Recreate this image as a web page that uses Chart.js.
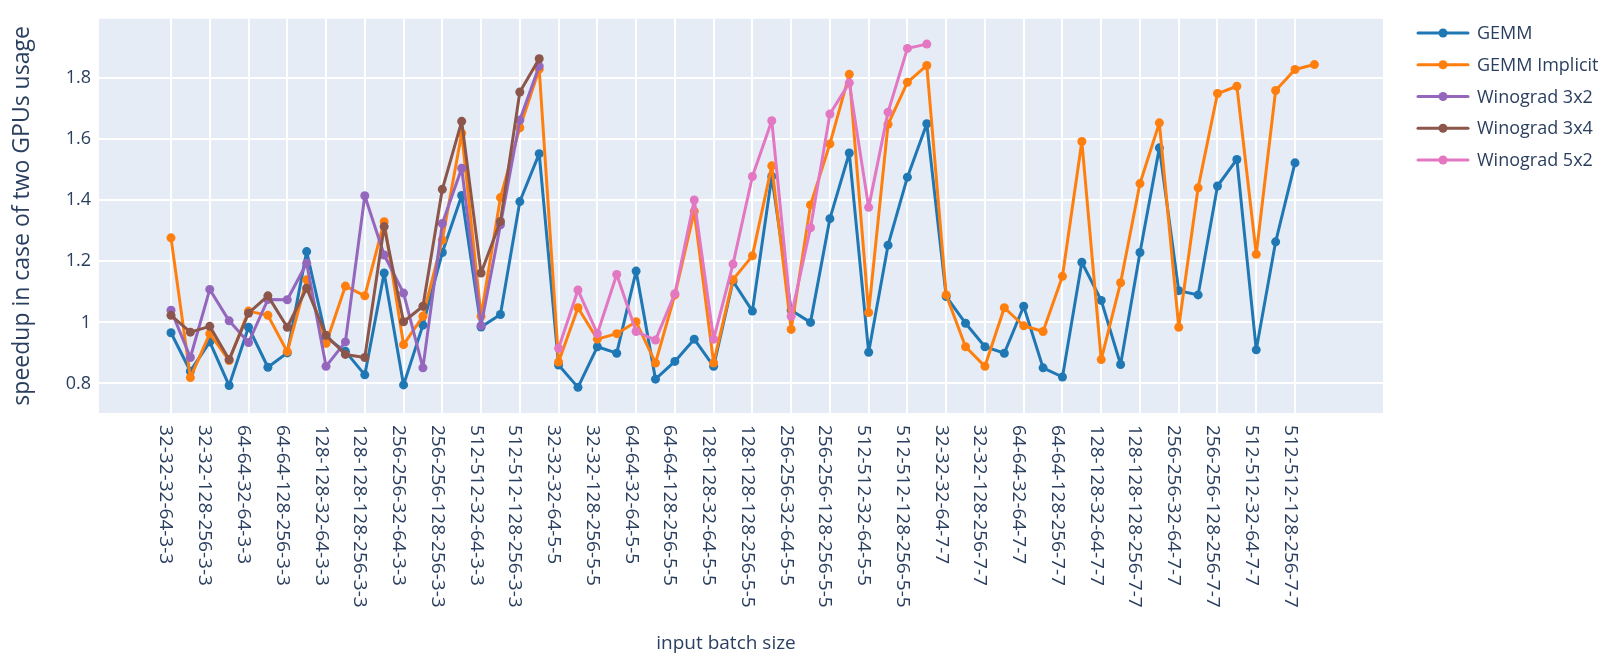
<!DOCTYPE html>
<html>
<head>
<meta charset="utf-8">
<script src="https://cdn.jsdelivr.net/npm/chart.js@4.4.1/dist/chart.umd.min.js"></script>
<style>
  html, body { margin: 0; padding: 0; background: #fff; }
  canvas { display: block; }
</style>
</head>
<body>
<canvas id="myChart" width="1609" height="661"></canvas>
<script>
const categorias = [
  '32-32-32-64-3-3', '32-32-64-128-3-3', '32-32-128-256-3-3', '32-32-256-512-3-3',
  '64-64-32-64-3-3', '64-64-64-128-3-3', '64-64-128-256-3-3', '64-64-256-512-3-3',
  '128-128-32-64-3-3', '128-128-64-128-3-3', '128-128-128-256-3-3', '128-128-256-512-3-3',
  '256-256-32-64-3-3', '256-256-64-128-3-3', '256-256-128-256-3-3', '256-256-256-512-3-3',
  '512-512-32-64-3-3', '512-512-64-128-3-3', '512-512-128-256-3-3', '512-512-256-512-3-3',
  '32-32-32-64-5-5', '32-32-64-128-5-5', '32-32-128-256-5-5', '32-32-256-512-5-5',
  '64-64-32-64-5-5', '64-64-64-128-5-5', '64-64-128-256-5-5', '64-64-256-512-5-5',
  '128-128-32-64-5-5', '128-128-64-128-5-5', '128-128-128-256-5-5', '128-128-256-512-5-5',
  '256-256-32-64-5-5', '256-256-64-128-5-5', '256-256-128-256-5-5', '256-256-256-512-5-5',
  '512-512-32-64-5-5', '512-512-64-128-5-5', '512-512-128-256-5-5', '512-512-256-512-5-5',
  '32-32-32-64-7-7', '32-32-64-128-7-7', '32-32-128-256-7-7', '32-32-256-512-7-7',
  '64-64-32-64-7-7', '64-64-64-128-7-7', '64-64-128-256-7-7', '64-64-256-512-7-7',
  '128-128-32-64-7-7', '128-128-64-128-7-7', '128-128-128-256-7-7', '128-128-256-512-7-7',
  '256-256-32-64-7-7', '256-256-64-128-7-7', '256-256-128-256-7-7', '256-256-256-512-7-7',
  '512-512-32-64-7-7', '512-512-64-128-7-7', '512-512-128-256-7-7', '512-512-256-512-7-7'
];

// GEMM termina em 512-512-128-256-7-7
const gemm = [
  0.966, 0.84, 0.936, 0.793, 0.984, 0.853, 0.90, 1.232, 0.95, 0.905,
  0.828, 1.162, 0.795, 0.991, 1.229, 1.416, 0.985, 1.026, 1.396, 1.553,
  0.86, 0.787, 0.92, 0.899, 1.168, 0.814, 0.872, 0.945, 0.856, 1.135,
  1.037, 1.478, 1.04, 1.0, 1.34, 1.555, 0.902, 1.253, 1.476, 1.651,
  1.085, 0.997, 0.92, 0.899, 1.053, 0.851, 0.821, 1.197, 1.072, 0.862,
  1.229, 1.572, 1.104, 1.09, 1.447, 1.534, 0.91, 1.264, 1.523
];

const gemmImplicit = [
  1.277, 0.819, 0.963, 0.875, 1.037, 1.023, 0.904, 1.14, 0.931, 1.119,
  1.087, 1.33, 0.927, 1.02, 1.27, 1.62, 1.02, 1.409, 1.638, 1.83,
  0.87, 1.048, 0.945, 0.963, 1.002, 0.867, 1.09, 1.364, 0.867, 1.14,
  1.218, 1.513, 0.977, 1.385, 1.585, 1.813, 1.032, 1.649, 1.787, 1.842,
  1.09, 0.92, 0.856, 1.048, 0.989, 0.97, 1.151, 1.593, 0.878, 1.13,
  1.455, 1.654, 0.984, 1.441, 1.75, 1.774, 1.223, 1.76, 1.829, 1.845
];

// so kernels 3x3 (indices 0-19)
const winograd3x2 = [
  1.04, 0.885, 1.108, 1.005, 0.934, 1.075, 1.074, 1.194, 0.856, 0.936,
  1.415, 1.221, 1.096, 0.851, 1.324, 1.505, 0.989, 1.32, 1.663, 1.84
];

const winograd3x4 = [
  1.023, 0.968, 0.987, 0.878, 1.03, 1.087, 0.984, 1.112, 0.958, 0.895,
  0.885, 1.314, 1.002, 1.053, 1.436, 1.659, 1.162, 1.331, 1.755, 1.864
];

// so kernels 5x5 (indices 20-39)
const winograd5x2 = [
  0.915, 1.106, 0.963, 1.157, 0.97, 0.942, 1.094, 1.401, 0.945, 1.191,
  1.478, 1.661, 1.02, 1.31, 1.683, 1.785, 1.377, 1.689, 1.898, 1.912
];

const ticksY = [0.8, 1, 1.2, 1.4, 1.6, 1.8];
const ticksX = categorias.map((c, i) => i).filter(i => i % 2 === 0);

const pontos = (valores, inicio) => valores.map((v, i) => ({x: inicio + i, y: v}));

const corTexto = '#2a3f5f';
const fonte = '"Open Sans", "Liberation Sans", sans-serif';
Chart.defaults.font.family = fonte;

const fundoPlugin = {
  id: 'fundo',
  beforeDraw(chart) {
    const {ctx, chartArea: a} = chart;
    ctx.save();
    ctx.fillStyle = '#e5ecf6';
    ctx.fillRect(a.left, a.top, a.right - a.left, a.bottom - a.top);
    ctx.restore();
  }
};

const rotulosPlugin = {
  id: 'rotulos',
  afterDraw(chart) {
    const ctx = chart.ctx;
    const xs = chart.scales.x;
    ctx.save();
    ctx.fillStyle = corTexto;
    ctx.font = '19px ' + fonte;
    ctx.textAlign = 'left';
    ctx.textBaseline = 'alphabetic';
    ticksX.forEach(i => {
      const x = xs.getPixelForValue(i);
      ctx.save();
      ctx.translate(x - 10.5, 425);
      ctx.rotate(Math.PI / 2);
      ctx.fillText(categorias[i], 0, 0);
      ctx.restore();
    });

    // titulos dos eixos
    ctx.textAlign = 'center';
    ctx.textBaseline = 'middle';
    ctx.font = '19px ' + fonte;
    ctx.fillText('input batch size', 726, 644);
    ctx.save();
    ctx.translate(22, (chart.chartArea.top + chart.chartArea.bottom) / 2);
    ctx.rotate(-Math.PI / 2);
    ctx.font = '23px ' + fonte;
    ctx.fillText('speedup in case of two GPUs usage', 0, 0);
    ctx.restore();

    // legenda
    ctx.textAlign = 'left';
    ctx.font = '18px ' + fonte;
    chart.data.datasets.forEach((ds, i) => {
      const y = 33 + i * 31.75;
      ctx.strokeStyle = ds.borderColor;
      ctx.lineWidth = 3;
      ctx.lineCap = 'round';
      ctx.beginPath();
      ctx.moveTo(1418, y);
      ctx.lineTo(1468, y);
      ctx.stroke();
      ctx.fillStyle = ds.borderColor;
      ctx.beginPath();
      ctx.arc(1443, y, 4.5, 0, 2 * Math.PI);
      ctx.fill();
      ctx.fillStyle = corTexto;
      ctx.fillText(ds.label, 1477, y + 1);
    });
    ctx.restore();
  }
};

const serie = (label, cor, data, ordem) => ({
  label: label,
  data: data,
  borderColor: cor,
  backgroundColor: cor,
  borderWidth: 3,
  borderJoinStyle: 'round',
  borderCapStyle: 'round',
  pointRadius: 4.5,
  pointBorderWidth: 0,
  pointBackgroundColor: cor,
  tension: 0,
  order: ordem
});

let ctx = document.getElementById('myChart').getContext('2d');

new Chart(ctx, {
  type: 'line',
  data: {
    datasets: [
      serie('GEMM', '#1f77b4', pontos(gemm, 0), 5),
      serie('GEMM Implicit', '#ff7f0e', pontos(gemmImplicit, 0), 4),
      serie('Winograd 3x2', '#9467bd', pontos(winograd3x2, 0), 3),
      serie('Winograd 3x4', '#8c564b', pontos(winograd3x4, 0), 2),
      serie('Winograd 5x2', '#e377c2', pontos(winograd5x2, 20), 1)
    ]
  },
  options: {
    responsive: false,
    animation: false,
    events: [],
    layout: { padding: { top: 8, right: 226, left: 0, bottom: 0 } },
    plugins: {
      legend: { display: false },
      tooltip: { enabled: false }
    },
    scales: {
      x: {
        type: 'linear',
        min: -3.715,
        max: 62.54,
        afterBuildTicks: (scale) => { scale.ticks = ticksX.map(v => ({value: v})); },
        afterFit: (scale) => { scale.height = 248; },
        ticks: { display: false },
        grid: { color: '#ffffff', lineWidth: 2, drawTicks: false },
        border: { display: false }
      },
      y: {
        min: 0.703,
        max: 1.995,
        afterBuildTicks: (scale) => { scale.ticks = ticksY.map(v => ({value: v})); },
        afterFit: (scale) => { scale.width = 99; },
        ticks: {
          padding: 8,
          color: corTexto,
          font: { size: 18 },
          callback: function(value) {
            return String(Math.round(value * 10) / 10);
          }
        },
        grid: { color: '#ffffff', lineWidth: 2, drawTicks: false },
        border: { display: false }
      }
    }
  },
  plugins: [fundoPlugin, rotulosPlugin]
});
</script>
</body>
</html>
